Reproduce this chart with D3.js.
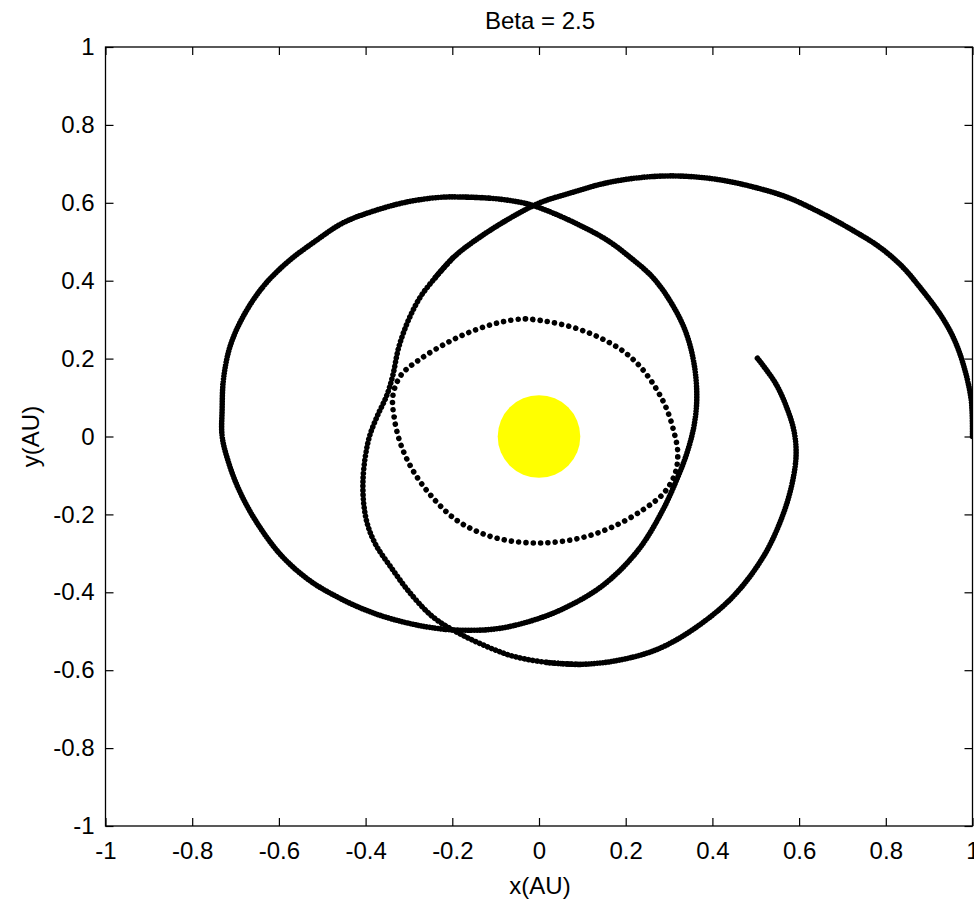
<!DOCTYPE html>
<html>
<head>
<meta charset="utf-8">
<script src="https://cdn.jsdelivr.net/npm/d3@7"></script>
<style>
  html, body { margin: 0; padding: 0; background: #fff; }
  svg { display: block; }
  text { font-family: "Liberation Sans", Arial, Helvetica, sans-serif; fill: #000; }
</style>
</head>
<body>
<svg id="chart" width="974" height="901"></svg>
<script>
// ---------------- data (AU) ----------------
const titleText = "Beta = 2.5";
const xLabel = "x(AU)";
const yLabel = "y(AU)";
const tickValues = [-1, -0.8, -0.6, -0.4, -0.2, 0, 0.2, 0.4, 0.6, 0.8, 1];
const sunPosition = [0, 0];

// outer part of the spiral, starting at (1, 0)
const spiralOuter = [
  [1.0, 0.0], [0.997, 0.094], [0.978, 0.188], [0.955, 0.256], [0.924, 0.316],
  [0.878, 0.384], [0.839, 0.435], [0.786, 0.486], [0.723, 0.530], [0.647, 0.576],
  [0.571, 0.615], [0.493, 0.641], [0.417, 0.659], [0.340, 0.668], [0.270, 0.668],
  [0.200, 0.660], [0.140, 0.647], [0.078, 0.627], [0.002, 0.600], [-0.074, 0.556],
  [-0.153, 0.499], [-0.199, 0.458], [-0.240, 0.407]
];
// middle part of the spiral (left side)
const spiralMiddle = [
  [-0.199, 0.458], [-0.240, 0.407], [-0.275, 0.356], [-0.303, 0.294], [-0.324, 0.227],
  [-0.337, 0.158], [-0.351, 0.106], [-0.372, 0.055], [-0.390, 0.004], [-0.400, -0.047],
  [-0.406, -0.112], [-0.404, -0.176], [-0.395, -0.228], [-0.376, -0.279], [-0.342, -0.335],
  [-0.298, -0.401], [-0.245, -0.463], [-0.190, -0.502], [-0.129, -0.535], [-0.063, -0.563],
  [0.018, -0.580], [0.094, -0.585]
];
// last part of the spiral, ending at (0.5, 0.2)
const spiralEnd = [
  [0.018, -0.580], [0.094, -0.585], [0.186, -0.574], [0.278, -0.544], [0.370, -0.484],
  [0.451, -0.407], [0.520, -0.304], [0.563, -0.200], [0.584, -0.120], [0.593, -0.050],
  [0.589, 0.010], [0.573, 0.070], [0.546, 0.136], [0.501, 0.205]
];
// large loop on the left
const leftLoop = [
  [-0.183, 0.615], [-0.114, 0.612], [-0.037, 0.600], [0.002, 0.587], [0.078, 0.551],
  [0.156, 0.505], [0.209, 0.461], [0.262, 0.409], [0.304, 0.345], [0.338, 0.270],
  [0.358, 0.185], [0.364, 0.100], [0.358, 0.030], [0.342, -0.040], [0.318, -0.110],
  [0.285, -0.190], [0.230, -0.290], [0.150, -0.380], [0.060, -0.440], [-0.020, -0.474],
  [-0.100, -0.494], [-0.189, -0.497], [-0.252, -0.490], [-0.321, -0.474], [-0.390, -0.450],
  [-0.460, -0.415], [-0.530, -0.369], [-0.594, -0.306], [-0.651, -0.221], [-0.692, -0.137],
  [-0.718, -0.060], [-0.731, 0.001], [-0.731, 0.068], [-0.728, 0.145], [-0.713, 0.230],
  [-0.683, 0.307], [-0.637, 0.384], [-0.582, 0.446], [-0.513, 0.504], [-0.453, 0.548],
  [-0.384, 0.578], [-0.305, 0.602], [-0.229, 0.614], [-0.183, 0.615], [-0.114, 0.612]
];
// inner loop around the sun (sparse dots)
const innerLoop = [
  [-0.031, 0.302], [0.009, 0.297], [0.055, 0.287], [0.101, 0.272], [0.147, 0.250],
  [0.193, 0.220], [0.233, 0.180], [0.268, 0.127], [0.294, 0.072], [0.311, 0.013],
  [0.320, -0.040], [0.314, -0.095], [0.288, -0.145], [0.240, -0.188], [0.170, -0.232],
  [0.094, -0.261], [0.013, -0.273], [-0.067, -0.268], [-0.136, -0.247], [-0.196, -0.210],
  [-0.252, -0.148], [-0.292, -0.085], [-0.319, -0.020], [-0.334, 0.048], [-0.337, 0.105],
  [-0.318, 0.158], [-0.275, 0.198], [-0.213, 0.240], [-0.153, 0.271], [-0.090, 0.293],
  [-0.031, 0.302], [0.009, 0.297]
];

// ---------------- layout ----------------
const plot = { left: 105.5, right: 972.5, top: 47, bottom: 826 };
const svg = d3.select("#chart");
svg.append("rect").attr("width", 974).attr("height", 901).attr("fill", "#fff");

const x = d3.scaleLinear().domain([-1, 1]).range([plot.left, plot.right]);
const y = d3.scaleLinear().domain([-1, 1]).range([plot.bottom, plot.top]);

const fmt = d => String(+d.toFixed(1));
const tickLen = 8;
const fontSize = 24;

svg.append("defs").append("clipPath").attr("id", "clip")
  .append("rect")
  .attr("x", plot.left).attr("y", plot.top)
  .attr("width", plot.right - plot.left).attr("height", plot.bottom - plot.top);

const content = svg.append("g").attr("clip-path", "url(#clip)");

// dotted trajectory segments
const line = d3.line().x(d => x(d[0])).y(d => y(d[1])).curve(d3.curveCatmullRom.alpha(0.5));
const segments = [
  { data: spiralOuter, gap: 2.6 },
  { data: spiralMiddle, gap: 4.3 },
  { data: spiralEnd, gap: 2.8 },
  { data: leftLoop, gap: 2.8 },
  { data: innerLoop, gap: 7.3 }
];
content.selectAll("path.traj").data(segments).join("path")
  .attr("class", "traj")
  .attr("d", d => line(d.data))
  .attr("fill", "none")
  .attr("stroke", "#000")
  .attr("stroke-width", 5.6)
  .attr("stroke-linecap", "round")
  .attr("stroke-dasharray", d => `0.01 ${d.gap}`);

// sun
content.append("circle")
  .attr("cx", x(sunPosition[0])).attr("cy", y(sunPosition[1]))
  .attr("r", 41.3)
  .attr("fill", "#ffff00");

// axes
const axisStyle = g => {
  g.attr("font-family", null).attr("font-size", null);
  g.select(".domain").remove();
  g.selectAll(".tick line").attr("stroke", "#000").attr("stroke-width", 1.2);
  g.selectAll(".tick text").style("font-size", fontSize + "px").attr("fill", "#000");
};

svg.append("g").attr("transform", `translate(0,${plot.bottom})`)
  .call(d3.axisBottom(x).tickValues(tickValues).tickFormat(fmt).tickSize(-tickLen).tickPadding(16))
  .call(axisStyle);

svg.append("g").attr("transform", `translate(0,${plot.top})`)
  .call(d3.axisTop(x).tickValues(tickValues).tickFormat("").tickSize(-tickLen))
  .call(axisStyle);

svg.append("g").attr("transform", `translate(${plot.left},0)`)
  .call(d3.axisLeft(y).tickValues(tickValues).tickFormat(fmt).tickSize(-tickLen).tickPadding(11))
  .call(axisStyle);

svg.append("g").attr("transform", `translate(${plot.right},0)`)
  .call(d3.axisRight(y).tickValues(tickValues).tickFormat("").tickSize(-tickLen))
  .call(axisStyle);

// box
svg.append("rect")
  .attr("x", plot.left).attr("y", plot.top)
  .attr("width", plot.right - plot.left).attr("height", plot.bottom - plot.top)
  .attr("fill", "none").attr("stroke", "#000").attr("stroke-width", 1.3);

// title and labels
svg.append("text").attr("x", 540).attr("y", 29)
  .attr("text-anchor", "middle").style("font-size", fontSize + "px").text(titleText);
svg.append("text").attr("x", 540).attr("y", 894)
  .attr("text-anchor", "middle").style("font-size", fontSize + "px").text(xLabel);
svg.append("text")
  .attr("transform", `translate(39,${(plot.top + plot.bottom) / 2}) rotate(-90)`)
  .attr("text-anchor", "middle").style("font-size", fontSize + "px").text(yLabel);
</script>
</body>
</html>
